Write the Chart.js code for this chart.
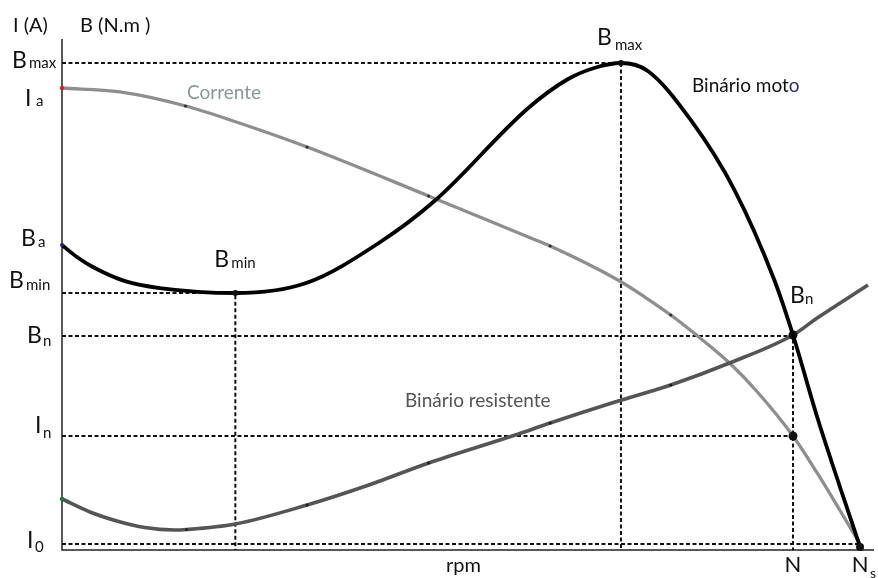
<!DOCTYPE html>
<html><head><meta charset="utf-8">
<script src="https://cdn.jsdelivr.net/npm/chart.js@4.4.1/dist/chart.umd.min.js"></script>
<style>html,body{margin:0;padding:0;background:#fff;overflow:hidden}canvas{display:block}</style>
</head><body><canvas id="c" width="878" height="578"></canvas>
<script>
// ---- data (x: % of synchronous speed, y: relative units) ----
const rpmMotor    = [0, 1.87, 3.87, 7.99, 12.23, 21.72, 30.59, 39.70, 46.82, 58.43, 63.42, 66.79, 70.04, 73.41, 78.78, 84.27, 89.26, 91.6, 94.63, 100];
const torqueMotor = [59.69, 57.34, 55.38, 52.56, 51.27, 50.29, 52.25, 60.08, 68.49, 86.50, 92.17, 94.38, 95.30, 93.74, 84.15, 70.45, 52.84, 42.07, 26.03, 0.6];

const rpmCurrent  = [0, 7.24, 15.48, 22.22, 30.71, 45.94, 58.43, 61.17, 69.66, 73.03, 76.28, 79.65, 83.65, 87.14, 91.6, 94.63, 97.38, 100];
const current     = [90.41, 89.63, 86.89, 83.56, 78.86, 69.28, 61.25, 59.49, 52.84, 49.51, 45.99, 41.88, 36.59, 30.92, 22.31, 15.07, 8.02, 1.17];

const rpmLoad     = [0, 3.50, 6.87, 10.36, 14.11, 15.61, 21.72, 30.71, 38.45, 45.94, 56.80, 61.17, 69.29, 76.28, 83.65, 91.6, 94.63, 101.0];
const torqueLoad  = [9.98, 7.44, 5.68, 4.40, 3.91, 4.01, 5.09, 8.81, 12.72, 17.03, 22.50, 24.85, 28.96, 32.29, 36.59, 42.07, 45.40, 51.86];

// key levels
const yLevelMain   = ['B', 'I', 'B', 'B', 'B', 'I', 'I'];
const yLevelSub    = ['max', 'a', 'a', 'min', 'n', 'n', '0'];
const yLevelValues = [95.3, 90.4, 59.7, 50.29, 41.9, 22.31, 1.17];

const xLevelMain   = ['rpm', 'N', 'N'];
const xLevelSub    = ['', '', 's'];
const xLevelValues = [50.3, 91.6, 100];

const rpmBmin = 21.72, rpmBmax = 70.04, rpmN = 91.6, rpmNs = 100;
const Bmax = 95.3, Bmin = 50.29, Bn = 41.9, In = 22.31, I0 = 1.17;

// ---- build chart ----
const pts = (xs, ys) => xs.map((x, i) => ({x, y: ys[i]}));
function radii(n, map) { return Array.from({length: n}, (_, i) => map[i] || 0); }
function cols(n, map, d) { return Array.from({length: n}, (_, i) => map[i] || d); }

const guideStyle = {borderColor: '#111', borderWidth: 2, borderDash: [4, 2.5], pointRadius: 0, fill: false, tension: 0, order: 10, clip: false};
const guides = [
  [{x: 0, y: Bmax}, {x: rpmBmax, y: Bmax}, {x: rpmBmax, y: 0}],
  [{x: 0, y: Bmin}, {x: rpmBmin, y: Bmin}, {x: rpmBmin, y: 0}],
  [{x: 0, y: Bn}, {x: rpmN, y: Bn}, {x: rpmN, y: 0}],
  [{x: 0, y: In}, {x: rpmN, y: In}],
  [{x: 0, y: I0}, {x: rpmNs, y: I0}]
].map(d => Object.assign({data: d}, guideStyle));

const cDot = '#333';
const datasets = guides.concat([
  {data: pts(rpmCurrent, current), borderColor: '#8e8e8e', borderWidth: 3.3, cubicInterpolationMode: 'monotone',
   pointRadius: radii(rpmCurrent.length, {0: 2.2, 2: 1.6, 4: 1.6, 5: 1.6, 7: 1.6, 10: 1.6, 14: 4.5}),
   pointBackgroundColor: cols(rpmCurrent.length, {0: '#d21', 14: '#111'}, cDot), pointBorderWidth: 0, order: 3, clip: false},
  {data: pts(rpmLoad, torqueLoad), borderColor: '#555', borderWidth: 3.6, cubicInterpolationMode: 'monotone',
   pointRadius: radii(rpmLoad.length, {0: 2.2, 5: 1.6, 7: 1.6, 9: 1.6, 11: 1.6, 13: 1.6, 15: 4.5}),
   pointBackgroundColor: cols(rpmLoad.length, {0: '#1a7a3a', 15: '#111'}, '#222'), pointBorderWidth: 0, order: 2, clip: false},
  {data: pts(rpmMotor, torqueMotor), borderColor: '#000', borderWidth: 3.8, cubicInterpolationMode: 'monotone',
   pointRadius: radii(rpmMotor.length, {0: 2, 5: 3, 12: 3, 19: 4}),
   pointBackgroundColor: cols(rpmMotor.length, {0: '#22228a'}, '#111'), pointBorderWidth: 0, order: 1, clip: false}
]);

// layout offsets for the level labels (px: main x, sub x, main dy, sub dy)
const yLabelLayout = [
  [12, 29, 5, 5], [25, 36, 18, 18], [21, 38, 1, 2], [9, 26, -5, -3],
  [27, 43, 7, 10], [35, 43, -3, 2], [27, 35, 4, 8]
];
const FONT = 'Lato, "Open Sans", sans-serif';

const textPlugin = {
  id: 'texts',
  beforeDatasetsDraw(chart) {
    const {ctx, chartArea: a} = chart;
    ctx.save();
    ctx.strokeStyle = '#222'; ctx.lineWidth = 1.5;
    ctx.beginPath();
    ctx.moveTo(a.left, a.top); ctx.lineTo(a.left, a.bottom); ctx.lineTo(a.right, a.bottom);
    ctx.stroke();
    ctx.restore();
  },
  afterDraw(chart) {
    const {ctx, scales: {x, y}} = chart;
    ctx.save();
    ctx.textBaseline = 'alphabetic'; ctx.textAlign = 'left';
    ctx.fillStyle = '#111';
    // axis titles
    ctx.font = '20px ' + FONT;
    ctx.fillText('I (A)', 13, 32);
    ctx.fillText('B (N.m )', 80, 32);
    // y level labels
    yLevelMain.forEach((m, i) => {
      const py = y.getPixelForValue(yLevelValues[i]);
      const L = yLabelLayout[i];
      ctx.font = '23px ' + FONT; ctx.fillText(m, L[0], py + L[2]);
      ctx.font = '15px ' + FONT; ctx.fillText(yLevelSub[i], L[1], py + L[3]);
    });
    // x level labels
    xLevelMain.forEach((m, i) => {
      const px = x.getPixelForValue(xLevelValues[i]);
      ctx.font = (i === 0 ? '20px ' : '22px ') + FONT;
      ctx.textAlign = 'center';
      ctx.fillText(m, px, 572);
      if (xLevelSub[i]) { ctx.textAlign = 'left'; ctx.font = '14px ' + FONT; ctx.fillText(xLevelSub[i], px + 10, 578); }
    });
    ctx.textAlign = 'left';
    // point labels
    const pB = (vx, vy) => [x.getPixelForValue(vx), y.getPixelForValue(vy)];
    let [bx, by] = pB(rpmBmin, Bmin);
    ctx.font = '23px ' + FONT; ctx.fillText('B', bx - 21, by - 26);
    ctx.font = '15px ' + FONT; ctx.fillText('min', bx - 4, by - 25);
    [bx, by] = pB(rpmBmax, Bmax);
    ctx.font = '23px ' + FONT; ctx.fillText('B', bx - 24, by - 18);
    ctx.font = '15px ' + FONT; ctx.fillText('max', bx - 6, by - 13);
    [bx, by] = pB(rpmN, Bn);
    ctx.font = '23px ' + FONT; ctx.fillText('B', bx - 3, by - 33);
    ctx.font = '15px ' + FONT; ctx.fillText('n', bx + 12, by - 32);
    // curve names
    ctx.font = '19px ' + FONT; ctx.fillStyle = '#8a9898';
    ctx.fillText('Corrente', 187, 99);
    ctx.fillStyle = '#555';
    ctx.fillText('Binário resistente', 405, 407);
    ctx.font = '19px ' + FONT; ctx.fillStyle = '#111';
    ctx.fillText('Binário mot', 692, 92);
    const w = ctx.measureText('Binário mot').width;
    ctx.fillStyle = '#2a2a7a'; ctx.fillText('o', 692 + w, 92);
    ctx.restore();
  }
};

new Chart(document.getElementById('c'), {
  type: 'line',
  data: {datasets},
  options: {
    responsive: false, animation: false, events: [],
    layout: {padding: {left: 62, right: 1, top: 39, bottom: 28}},
    plugins: {legend: {display: false}, tooltip: {enabled: false}},
    scales: {
      x: {type: 'linear', min: 0, max: 101.75, display: false},
      y: {type: 'linear', min: 0, max: 100, display: false}
    }
  },
  plugins: [textPlugin]
});
</script>
</body></html>
